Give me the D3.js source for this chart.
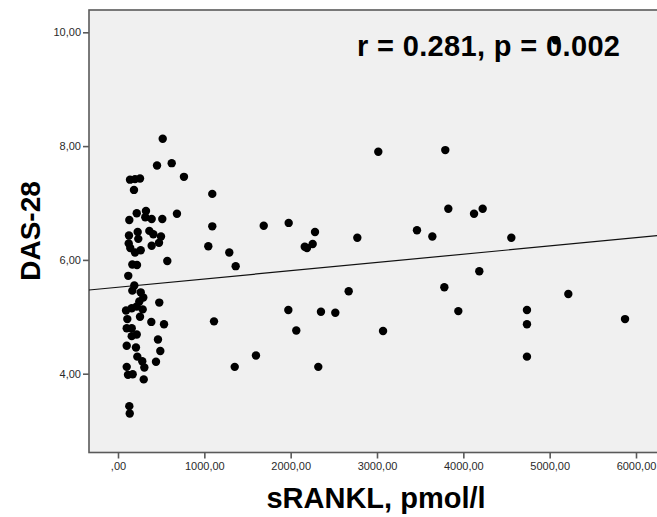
<!DOCTYPE html>
<html lang="en">

<head>
    <meta charset="UTF-8">
    <title>DAS-28 vs sRANKL</title>
    <script src="https://d3js.org/d3.v7.min.js"></script>
    <style>
        body {
            margin: 0;
            padding: 0;
            background: white;
        }

        text {
            font-family: "Liberation Sans", Arial, sans-serif;
        }
    </style>
</head>

<body>
    <div id='main'></div>

    <script>
        // sRANKL (pmol/l) and DAS-28
        var srankl = [
            518, 452, 622, 764, 139, 197, 255, 185, 1092, 217,
            324, 316, 390, 513, 683, 131, 1092, 228, 363, 409,
            498, 127, 235, 124, 475, 390, 142, 197, 263, 1046,
            571, 166, 220, 119, 189, 166, 263, 293, 247, 478,
            93, 159, 217, 286, 255, 108, 386, 533, 101, 159,
            159, 217, 463, 101, 208, 490, 224, 281, 440, 305,
            101, 116, 170, 298, 131, 136, 3015, 3791, 1688, 1977,
            2282, 1289, 1363, 2163, 2189, 2255, 2772, 3463, 3641, 3826,
            1112, 1973, 2672, 2351, 2517, 2065, 3070, 3780, 1598, 1352,
            2320, 4124, 4224, 4556, 4185, 3942, 5216, 4737, 4737, 4737,
            5873, 5073
        ];
        var das28 = [
            8.13, 7.66, 7.70, 7.46, 7.41, 7.42, 7.43, 7.23, 7.16, 6.82,
            6.86, 6.75, 6.72, 6.72, 6.81, 6.70, 6.59, 6.49, 6.51, 6.45,
            6.41, 6.43, 6.37, 6.29, 6.30, 6.25, 6.21, 6.13, 6.17, 6.24,
            5.98, 5.92, 5.91, 5.72, 5.55, 5.46, 5.43, 5.34, 5.27, 5.25,
            5.11, 5.15, 5.18, 5.13, 5.00, 4.96, 4.91, 4.87, 4.80, 4.80,
            4.66, 4.69, 4.60, 4.49, 4.46, 4.40, 4.30, 4.22, 4.21, 4.11,
            4.12, 3.98, 3.99, 3.90, 3.43, 3.30, 7.90, 7.93, 6.60, 6.65,
            6.49, 6.13, 5.89, 6.23, 6.21, 6.28, 6.39, 6.52, 6.41, 6.90,
            4.92, 5.12, 5.45, 5.09, 5.07, 4.76, 4.75, 5.52, 4.32, 4.12,
            4.12, 6.81, 6.90, 6.39, 5.80, 5.10, 5.40, 5.12, 4.87, 4.30,
            4.96, 9.86
        ];

        var xTicks = [0, 1000, 2000, 3000, 4000, 5000, 6000];
        var yTicks = [4, 6, 8, 10];
        var xTickLabels = [',00', '1000,00', '2000,00', '3000,00', '4000,00', '5000,00', '6000,00'];
        var yTickLabels = ['4,00', '6,00', '8,00', '10,00'];

        // linear fit line: [intercept, slope]
        var fit = [5.52, 0.000145];
        var statsLabel = 'r = 0.281, p = 0.002';

        var width = 657;
        var height = 517;

        var plotLeft = 89,
            plotRight = 662,
            plotTop = 10,
            plotBottom = 452.5;

        var x = d3.scaleLinear()
            .domain([0, 6000])
            .range([118, 636]);

        var y = d3.scaleLinear()
            .domain([4, 10])
            .range([373.7, 32.3]);

        var svg = d3.select("#main")
            .append("svg")
            .attr("width", width)
            .attr("height", height);

        // plot background
        svg.append("rect")
            .attr("x", plotLeft)
            .attr("y", plotTop)
            .attr("width", plotRight - plotLeft)
            .attr("height", plotBottom - plotTop)
            .attr("fill", "#f0f0f0")
            .attr("stroke", "#5a5a5a")
            .attr("stroke-width", 1.6);

        // ticks
        var xAxis = d3.axisBottom(x)
            .tickValues(xTicks)
            .tickSize(6)
            .tickPadding(4)
            .tickFormat(function(d, i) { return xTickLabels[i] });

        var yAxis = d3.axisLeft(y)
            .tickValues(yTicks)
            .tickSize(6)
            .tickPadding(2)
            .tickFormat(function(d, i) { return yTickLabels[i] });

        var gx = svg.append("g")
            .attr("transform", "translate(0," + plotBottom + ")")
            .call(xAxis);

        var gy = svg.append("g")
            .attr("transform", "translate(" + plotLeft + ",0)")
            .call(yAxis);

        [gx, gy].forEach(function(g) {
            g.select(".domain").remove();
            g.selectAll(".tick line")
                .attr("stroke", "#5a5a5a")
                .attr("stroke-width", 1.6);
            g.selectAll(".tick text")
                .attr("fill", "#2a2a2a")
                .style("font-family", "'Liberation Sans', Arial, sans-serif")
                .style("font-size", "11px");
        });

        // fit line, clipped to the plot
        svg.append("clipPath")
            .attr("id", "plotClip")
            .append("rect")
            .attr("x", plotLeft)
            .attr("y", plotTop)
            .attr("width", plotRight - plotLeft)
            .attr("height", plotBottom - plotTop);

        var xMin = x.invert(plotLeft),
            xMax = x.invert(plotRight);

        svg.append("line")
            .attr("clip-path", "url(#plotClip)")
            .attr("x1", x(xMin))
            .attr("y1", y(fit[0] + fit[1] * xMin))
            .attr("x2", x(xMax))
            .attr("y2", y(fit[0] + fit[1] * xMax))
            .attr("stroke", "#111")
            .attr("stroke-width", 1.2);

        // points
        svg.selectAll("circle.pt")
            .data(srankl)
            .enter()
            .append("circle")
            .attr("class", "pt")
            .attr("cx", function(d) { return x(d) })
            .attr("cy", function(d, i) { return y(das28[i]) })
            .attr("r", 4.2)
            .attr("fill", "black");

        // stats label
        svg.append("text")
            .attr("x", 357)
            .attr("y", 56)
            .attr("font-size", 29)
            .attr("font-weight", "bold")
            .attr("textLength", 263)
            .attr("fill", "black")
            .text(statsLabel);

        // axis titles
        svg.append("text")
            .attr("x", 376)
            .attr("y", 508)
            .attr("text-anchor", "middle")
            .attr("font-size", 29)
            .attr("font-weight", "bold")
            .attr("fill", "black")
            .text("sRANKL, pmol/l");

        svg.append("text")
            .attr("transform", "translate(40,231) rotate(-90)")
            .attr("text-anchor", "middle")
            .attr("font-size", 28)
            .attr("font-weight", "bold")
            .attr("fill", "black")
            .text("DAS-28");
    </script>

</body>

</html>
